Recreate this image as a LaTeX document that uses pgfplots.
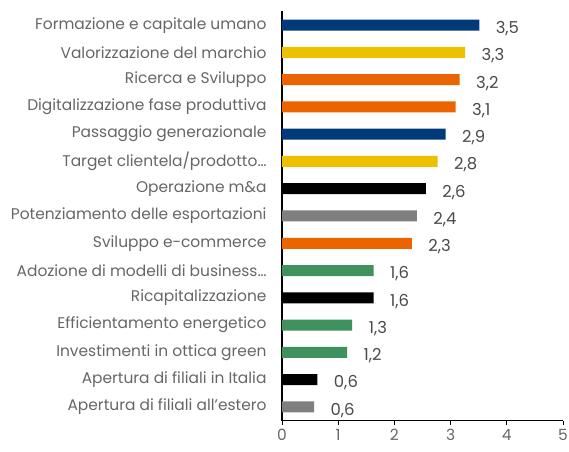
\documentclass[border=0pt]{standalone}
\usepackage{fontspec}
\setmainfont{Poppins}
\usepackage{pgfplots}
\pgfplotsset{compat=1.18}
\definecolor{cblue}{HTML}{003A78}
\definecolor{cyellow}{HTML}{EDC000}
\definecolor{corange}{HTML}{EB6400}
\definecolor{cblack}{HTML}{000000}
\definecolor{cgray}{HTML}{7F7F7F}
\definecolor{cgreen}{HTML}{3F915E}
\definecolor{labgray}{HTML}{666666}
\definecolor{numgray}{HTML}{4A4A4A}
\begin{document}
\begin{tikzpicture}
\begin{axis}[name=ax, at={(0,0)}, anchor=south west,
  scale only axis, width=281bp, height=409bp,
  xmin=0, xmax=5, ymin=-0.5, ymax=14.5,
  xtick={0,1,2,3,4,5},
  ytick={0,...,14},
  yticklabels={Apertura di filiali all'estero,Apertura di filiali in Italia,Investimenti in ottica green,Efficientamento energetico,Ricapitalizzazione,Adozione di modelli di business…,Sviluppo e-commerce,Potenziamento delle esportazioni,Operazione m\&a,Target clientela/prodotto…,Passaggio generazionale,Digitalizzazione fase produttiva,Ricerca e Sviluppo,Valorizzazione del marchio,Formazione e capitale umano},
  axis x line*=bottom, axis y line*=left,
  axis line style={draw=black, line width=1.2bp},
  xtick align=outside, major tick length=4bp,
  xtick style={draw=black, line width=0.8bp},
  ytick style={draw=none},
  tick label style={font=\fontsize{15.5}{18}\selectfont, text=labgray},
  yticklabel style={xshift=-8bp},
  xticklabel style={yshift=-1bp},
  /pgf/number format/assume math mode=true,
  xbar, bar width=11bp, bar shift=0pt,
  nodes near coords={\kern13bp\pgfplotspointmeta}, point meta=explicit symbolic,
  every node near coord/.append style={anchor=west, yshift=-3.5bp, font=\fontsize{16.5}{18}\selectfont, text=numgray},
  clip=false,
]
\addplot[draw=none, fill=cblue] table[x=x, y=y, meta=l] {
x y l
3.51 14 3,5
2.91 10 2,9
};
\addplot[draw=none, fill=cyellow] table[x=x, y=y, meta=l] {
x y l
3.26 13 3,3
2.77 9 2,8
};
\addplot[draw=none, fill=corange] table[x=x, y=y, meta=l] {
x y l
3.16 12 3,2
3.09 11 3,1
2.31 6 2,3
};
\addplot[draw=none, fill=cblack] table[x=x, y=y, meta=l] {
x y l
2.56 8 2,6
1.63 4 1,6
0.63 1 0,6
};
\addplot[draw=none, fill=cgray] table[x=x, y=y, meta=l] {
x y l
2.40 7 2,4
0.57 0 0,6
};
\addplot[draw=none, fill=cgreen] table[x=x, y=y, meta=l] {
x y l
1.63 5 1,6
1.25 3 1,3
1.16 2 1,2
};
\end{axis}
\pgfresetboundingbox
\useasboundingbox ([shift={(-282bp,-31.5bp)}]ax.south west) rectangle ([shift={(6bp,11.5bp)}]ax.north east);
\end{tikzpicture}
\end{document}
